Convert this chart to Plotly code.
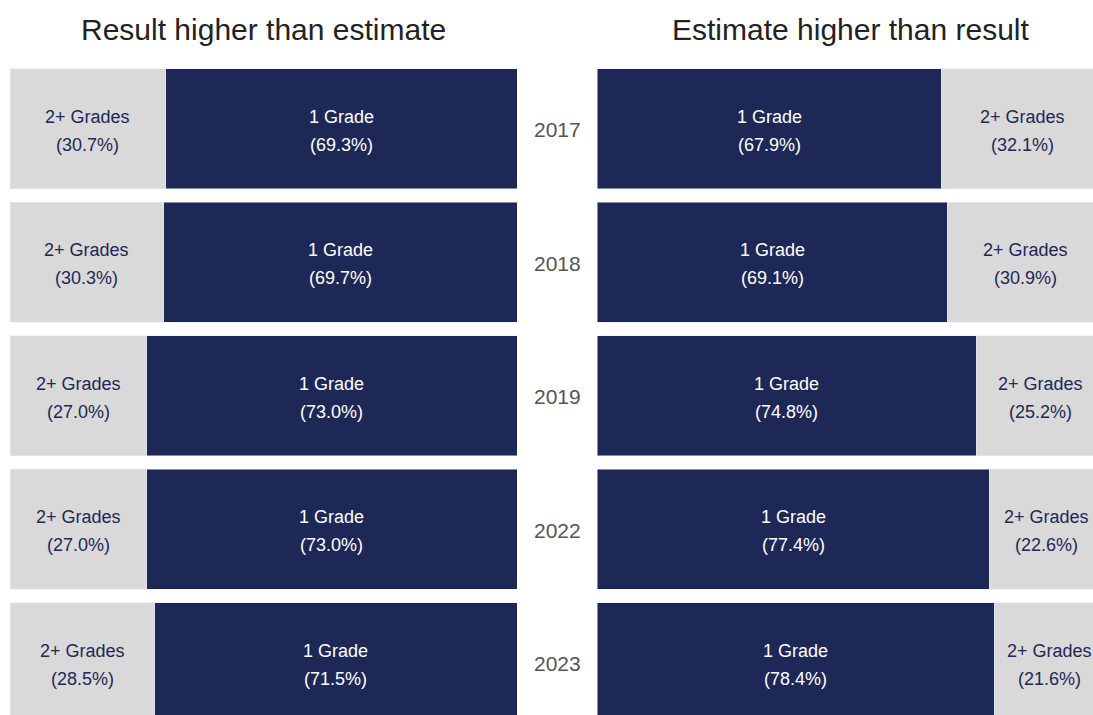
import plotly.graph_objects as go

# Grade-gap breakdown by year
years = ["2017", "2018", "2019", "2022", "2023"]
result_higher_one = [69.3, 69.7, 73.0, 73.0, 71.5]
result_higher_two_plus = [30.7, 30.3, 27.0, 27.0, 28.5]
estimate_higher_one = [67.9, 69.1, 74.8, 77.4, 78.4]
estimate_higher_two_plus = [32.1, 30.9, 25.2, 22.6, 21.6]

NAVY = "#1e2857"
GREY = "#d9d9d9"
FONT = "Arial, Liberation Sans, sans-serif"

W, H = 1093, 715
TOP = 62
pos = list(range(len(years)))

fig = go.Figure()

# Left panel: 1 Grade starts at the centre and runs left, 2+ Grades beyond it
fig.add_trace(go.Bar(y=pos, x=result_higher_one, orientation="h", marker_color=NAVY,
                     width=0.9, xaxis="x", yaxis="y", hoverinfo="skip", showlegend=False))
fig.add_trace(go.Bar(y=pos, x=result_higher_two_plus, orientation="h", marker_color=GREY,
                     width=0.9, xaxis="x", yaxis="y", hoverinfo="skip", showlegend=False))
# Right panel: 1 Grade from the centre running right, then 2+ Grades
fig.add_trace(go.Bar(y=pos, x=estimate_higher_one, orientation="h", marker_color=NAVY,
                     width=0.9, xaxis="x2", yaxis="y2", hoverinfo="skip", showlegend=False))
fig.add_trace(go.Bar(y=pos, x=estimate_higher_two_plus, orientation="h", marker_color=GREY,
                     width=0.9, xaxis="x2", yaxis="y2", hoverinfo="skip", showlegend=False))

annotations = []


def segment_label(xref, yref, x, y, name, pct, color):
    for text, shift in ((name, 12), (f"({pct:.1f}%)", -16)):
        annotations.append(dict(x=x, y=y, xref=xref, yref=yref, text=text, showarrow=False,
                                yshift=shift, xanchor="center", yanchor="middle",
                                font=dict(family=FONT, size=18, color=color)))


for i in pos:
    one, two = result_higher_one[i], result_higher_two_plus[i]
    segment_label("x", "y", one / 2, i, "1 Grade", one, "white")
    segment_label("x", "y", one + two / 2, i, "2+ Grades", two, NAVY)
    one, two = estimate_higher_one[i], estimate_higher_two_plus[i]
    segment_label("x2", "y2", one / 2, i, "1 Grade", one, "white")
    segment_label("x2", "y2", one + two / 2, i, "2+ Grades", two, NAVY)
    annotations.append(dict(x=557 / W, y=i, xref="paper", yref="y", text=years[i],
                            showarrow=False, xanchor="center", yanchor="middle", yshift=-1,
                            font=dict(family=FONT, size=21, color="#555555")))

title_y = 1 + 32 / (H - TOP)
annotations.append(dict(x=263.5 / W, y=title_y, xref="paper", yref="paper",
                        text="Result higher than estimate", showarrow=False,
                        xanchor="center", yanchor="middle",
                        font=dict(family=FONT, size=30, color="#222222")))
annotations.append(dict(x=850.5 / W, y=title_y, xref="paper", yref="paper",
                        text="Estimate higher than result", showarrow=False,
                        xanchor="center", yanchor="middle",
                        font=dict(family=FONT, size=30, color="#222222")))

left_domain = [10 / W, 517 / W]
right_domain = [597 / W, 1.0]
right_span = (1093 - 597) / 507 * 100
y_range = [-0.5 + (H - TOP) / 133.5, -0.5]

fig.update_layout(
    width=W, height=H,
    margin=dict(l=0, r=0, t=TOP, b=0),
    barmode="stack",
    paper_bgcolor="white", plot_bgcolor="white",
    xaxis=dict(domain=left_domain, range=[100, 0], visible=False, fixedrange=True),
    xaxis2=dict(domain=right_domain, range=[0, right_span], visible=False, fixedrange=True),
    yaxis=dict(range=y_range, visible=False, anchor="x"),
    yaxis2=dict(range=y_range, visible=False, anchor="x2", matches="y"),
    annotations=annotations,
)

fig.write_html("out.html", config={"displayModeBar": False})
